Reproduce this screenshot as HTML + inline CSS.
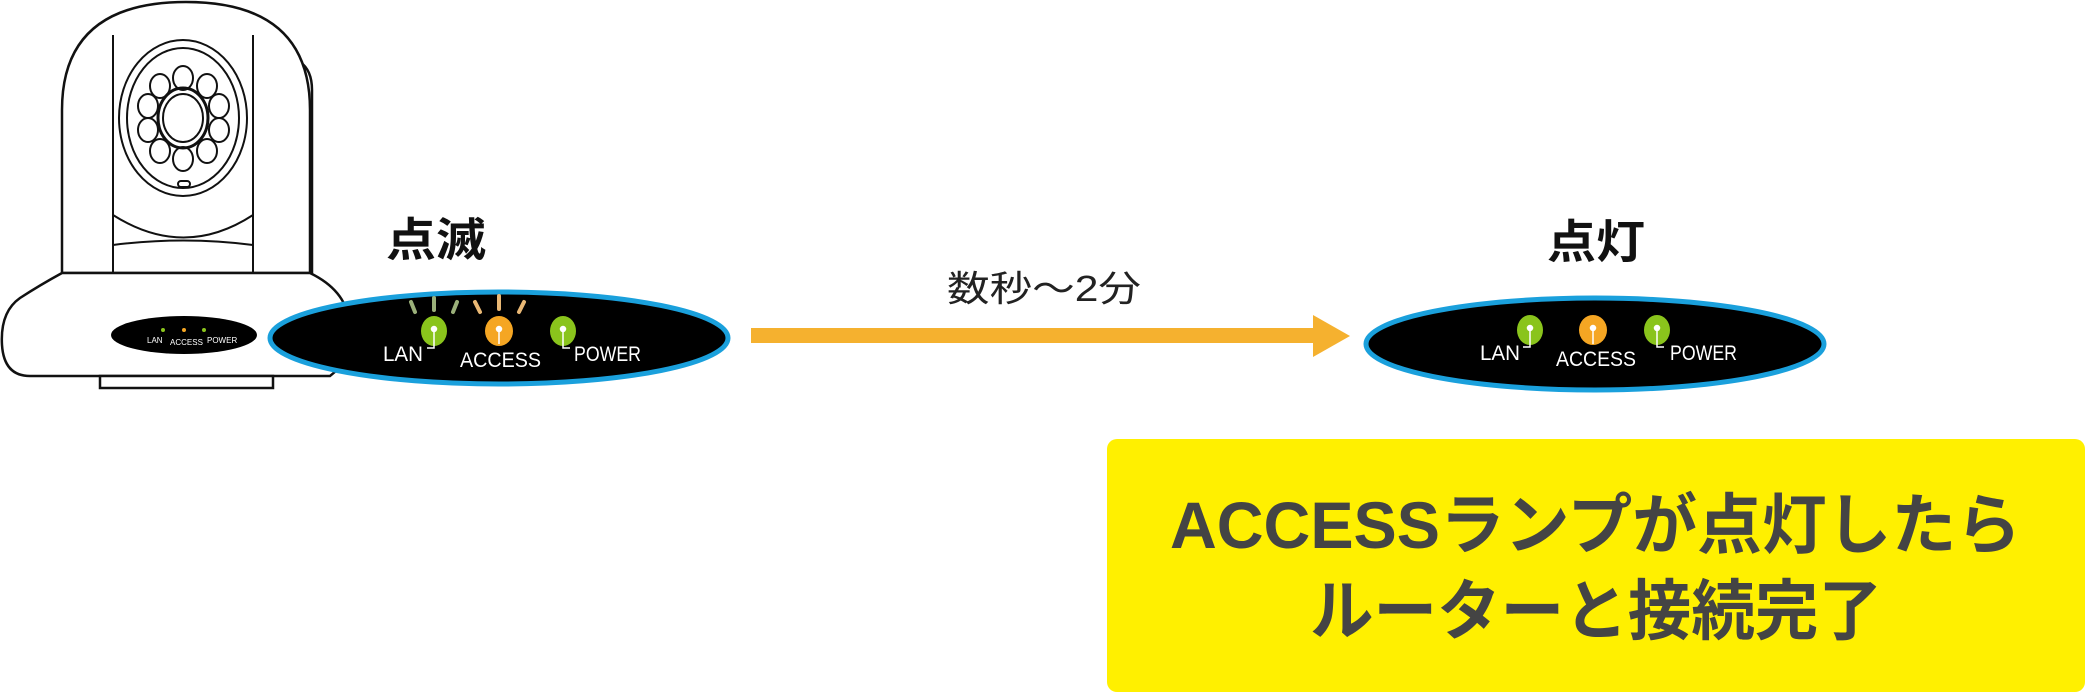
<!DOCTYPE html>
<html><head><meta charset="utf-8"><style>
html,body{margin:0;padding:0;background:#fff;width:2085px;height:694px;overflow:hidden}
svg{display:block}
.l{font-family:"Liberation Sans","Noto Sans CJK JP",sans-serif;fill:#fff}
.j{font-family:"Liberation Sans","Noto Sans CJK JP",sans-serif}
</style></head><body>
<svg width="2085" height="694" viewBox="0 0 2085 694" xmlns="http://www.w3.org/2000/svg">
<!-- camera -->
<g fill="#fff" stroke="#111" stroke-width="2.5">
<path d="M300 62 Q312 70 312 90 L312 280 L300 280 Z"/>
<path d="M62 273 L62 110 Q62 2 186 2 Q310 2 310 110 L310 273 Z"/>
<path d="M62 273 Q40 285 20 298 Q0 312 2 345 Q4 376 30 376 L330 376 Q352 360 349 320 Q345 290 310 273 Z"/>
<rect x="100" y="376" width="173" height="12"/>
</g>
<g fill="none" stroke="#111" stroke-width="2">
<line x1="113" y1="35" x2="113" y2="273"/>
<line x1="253" y1="35" x2="253" y2="273"/>
<path d="M113 215 Q184 260 253 215"/>
<path d="M113 245 Q184 236 253 245"/>
<ellipse cx="183" cy="118" rx="64" ry="78"/>
<ellipse cx="183" cy="118" rx="56" ry="70"/>
<ellipse cx="183" cy="118" rx="25" ry="30" stroke-width="3"/>
<ellipse cx="183" cy="118" rx="20" ry="24"/>
<ellipse cx="183" cy="78" rx="10" ry="12"/>
<ellipse cx="207" cy="86" rx="10" ry="12"/>
<ellipse cx="160" cy="86" rx="10" ry="12"/>
<ellipse cx="148" cy="106" rx="10" ry="12"/>
<ellipse cx="219" cy="106" rx="10" ry="12"/>
<ellipse cx="148" cy="130" rx="10" ry="12"/>
<ellipse cx="219" cy="130" rx="10" ry="12"/>
<ellipse cx="160" cy="151" rx="10" ry="12"/>
<ellipse cx="207" cy="151" rx="10" ry="12"/>
<ellipse cx="183" cy="159" rx="10" ry="12"/>
<rect x="178" y="181" width="12" height="6" rx="3"/>
</g>
<ellipse cx="184" cy="335" rx="73" ry="19" fill="#000"/>
<circle cx="163" cy="330" r="2" fill="#8ac41c"/><circle cx="184" cy="330" r="2" fill="#f5a623"/><circle cx="204" cy="330" r="2" fill="#8ac41c"/>
<text x="147" y="343" font-size="8" class="l">LAN</text>
<text x="170" y="345" font-size="8" class="l">ACCESS</text>
<text x="207" y="343" font-size="8" class="l">POWER</text>

<!-- left panel -->
<ellipse cx="499" cy="338" rx="229" ry="46" fill="#000" stroke="#1aa0dc" stroke-width="5"/>
<g stroke-width="4" stroke-linecap="round">
<line x1="411" y1="302" x2="415" y2="312" stroke="#9bb07a"/>
<line x1="434" y1="298" x2="434" y2="310" stroke="#9bb07a"/>
<line x1="457" y1="302" x2="453" y2="312" stroke="#9bb07a"/>
<line x1="475" y1="302" x2="480" y2="312" stroke="#e9b875"/>
<line x1="499" y1="296" x2="499" y2="309" stroke="#e9b875"/>
<line x1="524" y1="302" x2="519" y2="312" stroke="#e9b875"/>
</g>
<g>
<ellipse cx="434" cy="331" rx="13" ry="15" fill="#8ac41c"/>
<ellipse cx="499" cy="331" rx="14" ry="15" fill="#f5a623"/>
<ellipse cx="563" cy="331" rx="13" ry="15" fill="#8ac41c"/>
<g stroke="#fff" stroke-width="1.5" fill="#fff">
<circle cx="434" cy="329" r="2.5"/><path d="M434 329 V348 H427" fill="none"/>
<circle cx="499" cy="329" r="2.5"/><line x1="499" y1="329" x2="499" y2="344"/>
<circle cx="563" cy="329" r="2.5"/><path d="M563 329 V348 H570" fill="none"/>
</g>
<text x="383" y="361" font-size="21" class="l" textLength="40" lengthAdjust="spacingAndGlyphs">LAN</text>
<text x="460" y="367" font-size="21" class="l" textLength="81" lengthAdjust="spacingAndGlyphs">ACCESS</text>
<text x="574" y="361" font-size="21" class="l" textLength="67" lengthAdjust="spacingAndGlyphs">POWER</text>
</g>
<text x="386" y="256" font-size="46" font-weight="bold" class="j" fill="#111" textLength="100" lengthAdjust="spacingAndGlyphs">点滅</text>

<!-- arrow -->
<rect x="751" y="328" width="565" height="15" fill="#f5b12f"/>
<polygon points="1313,315 1350,336 1313,357" fill="#f5b12f"/>
<text x="947" y="301" font-size="36" class="j" fill="#222" textLength="194" lengthAdjust="spacingAndGlyphs">数秒〜2分</text>

<!-- right panel -->
<ellipse cx="1595" cy="344" rx="229" ry="46" fill="#000" stroke="#1aa0dc" stroke-width="5"/>
<ellipse cx="1530" cy="330" rx="13" ry="15" fill="#8ac41c"/>
<ellipse cx="1593" cy="330" rx="14" ry="15" fill="#f5a623"/>
<ellipse cx="1657" cy="330" rx="13" ry="15" fill="#8ac41c"/>
<g stroke="#fff" stroke-width="1.5" fill="#fff">
<circle cx="1530" cy="328" r="2.5"/><path d="M1530 328 V347 H1523" fill="none"/>
<circle cx="1593" cy="328" r="2.5"/><line x1="1593" y1="328" x2="1593" y2="344"/>
<circle cx="1657" cy="328" r="2.5"/><path d="M1657 328 V347 H1664" fill="none"/>
</g>
<text x="1480" y="360" font-size="21" class="l" textLength="40" lengthAdjust="spacingAndGlyphs">LAN</text>
<text x="1556" y="366" font-size="21" class="l" textLength="80" lengthAdjust="spacingAndGlyphs">ACCESS</text>
<text x="1670" y="360" font-size="21" class="l" textLength="67" lengthAdjust="spacingAndGlyphs">POWER</text>
<text x="1547" y="258" font-size="46" font-weight="bold" class="j" fill="#111" textLength="98" lengthAdjust="spacingAndGlyphs">点灯</text>

<!-- yellow box -->
<rect x="1107" y="439" width="978" height="253" rx="10" fill="#fff000"/>
<text x="1170" y="548" font-size="66" font-weight="bold" class="j" fill="#444" textLength="851" lengthAdjust="spacingAndGlyphs">ACCESSランプが点灯したら</text>
<text x="1310" y="634" font-size="66" font-weight="bold" class="j" fill="#444" textLength="572" lengthAdjust="spacingAndGlyphs">ルーターと接続完了</text>
</svg>
</body></html>
